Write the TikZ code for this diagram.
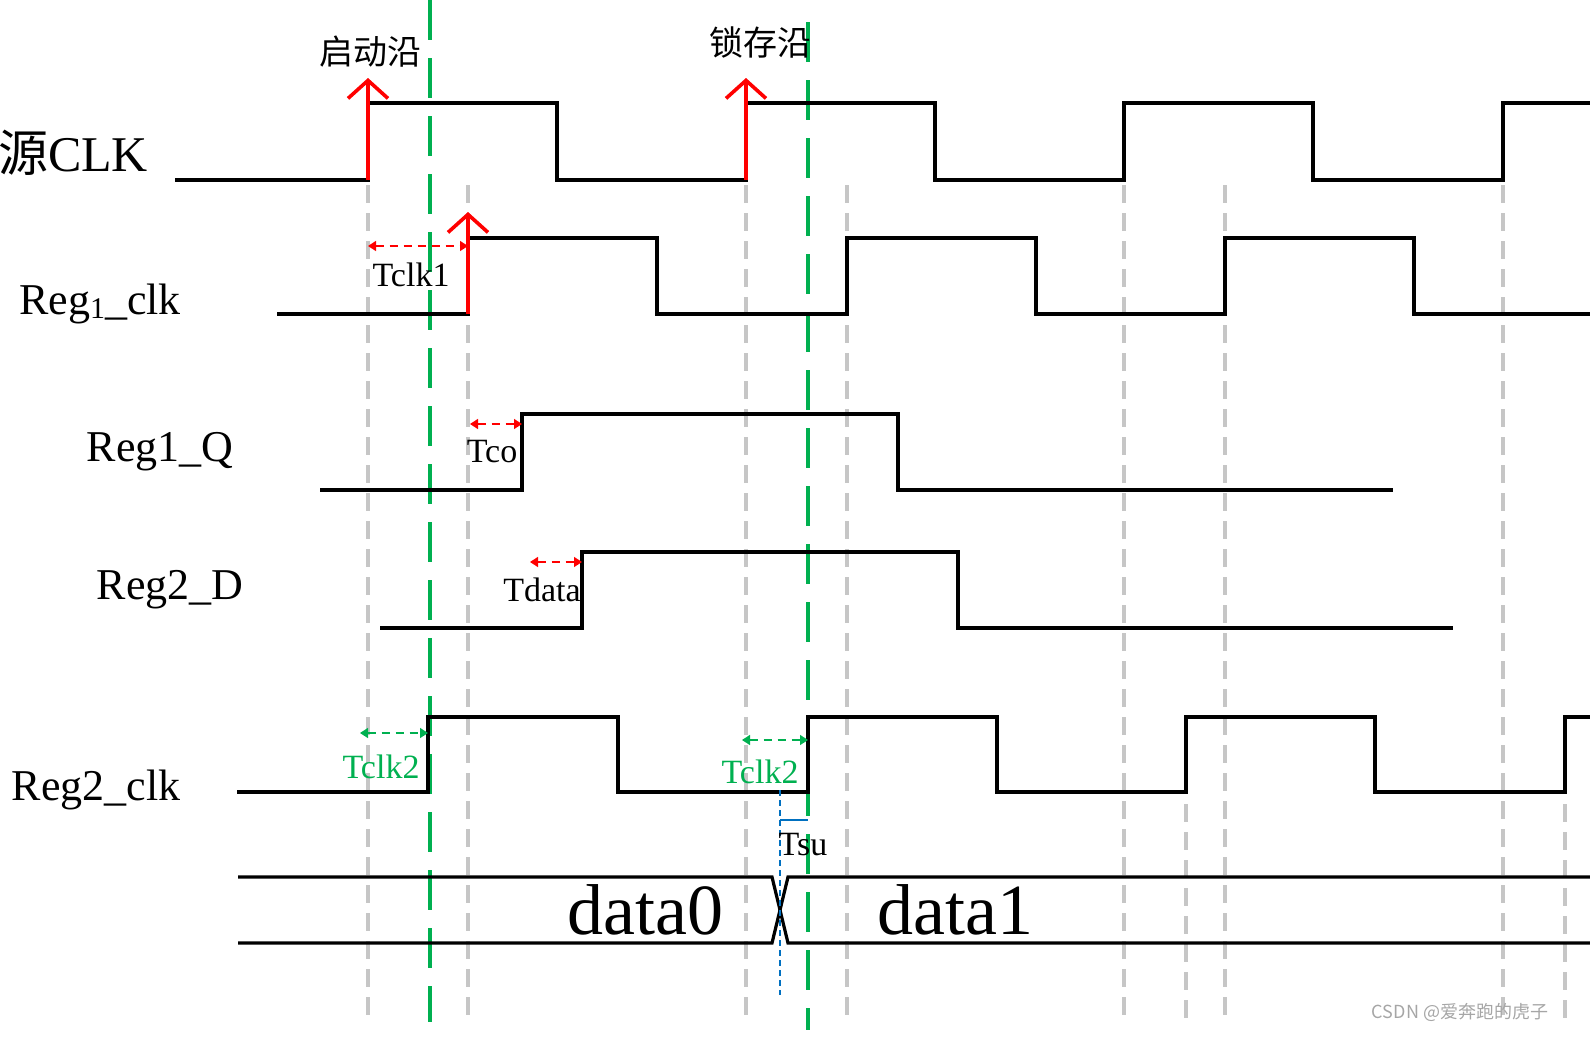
\documentclass[tikz,border=0pt]{standalone}
\usepackage{fontspec}
\setmainfont{Liberation Serif}
\newfontfamily\cjk{Noto Sans CJK SC}
\usetikzlibrary{arrows.meta}
\definecolor{ggreen}{RGB}{0,176,80}
\definecolor{gblue}{RGB}{0,112,192}
\tikzset{
 wave/.style={line width=1.6pt,black},
 grid/.style={line width=1.8pt,gray!45,dash pattern=on 9pt off 5pt},
 gline/.style={line width=2.2pt,ggreen,dash pattern=on 20pt off 9pt},
 redge/.style={line width=1.8pt,red,-{Straight Barb[length=9pt,width=20pt]}},
 rdim/.style={red,line width=0.7pt,dash pattern=on 4pt off 3pt,{Triangle[length=4pt,width=5pt]}-{Triangle[length=4pt,width=5pt]}},
 gdim/.style={ggreen,line width=0.7pt,dash pattern=on 4pt off 3pt,{Triangle[length=4pt,width=5pt]}-{Triangle[length=4pt,width=5pt]}},
 sig/.style={font=\fontsize{22}{24}\selectfont},
 tl/.style={font=\fontsize{17}{19}\selectfont},
}
\begin{document}
\begin{tikzpicture}[x=0.5pt,y=-0.5pt]
\useasboundingbox (0,0) rectangle (1590,1044);
% grid lines
\foreach \x in {368,468,746,847,1124,1225,1503} \draw[grid] (\x,185) -- (\x,1022);
\foreach \x in {1186,1565} \draw[grid] (\x,720) -- (\x,1022);
% green lines
\draw[gline] (430,0) -- (430,1022);
\draw[gline] (808,22) -- (808,1030);
% source CLK
\draw[wave] (175,180) -- (368,180) -- (368,103) -- (557,103) -- (557,180) -- (746,180) -- (746,103) -- (935,103) -- (935,180) -- (1124,180) -- (1124,103) -- (1313,103) -- (1313,180) -- (1503,180) -- (1503,103) -- (1590,103);
\draw[redge] (368,180) -- (368,78);
\draw[redge] (746,180) -- (746,78);
% Reg1_clk
\draw[wave] (277,314) -- (468,314) -- (468,238) -- (657,238) -- (657,314) -- (847,314) -- (847,238) -- (1036,238) -- (1036,314) -- (1225,314) -- (1225,238) -- (1414,238) -- (1414,314) -- (1590,314);
\draw[redge] (468,314) -- (468,212);
\draw[rdim] (368,246) -- (468,246);
% Reg1_Q
\draw[wave] (320,490) -- (522,490) -- (522,414) -- (898,414) -- (898,490) -- (1393,490);
\draw[rdim] (470,424) -- (522,424);
% Reg2_D
\draw[wave] (380,628) -- (582,628) -- (582,552) -- (958,552) -- (958,628) -- (1453,628);
\draw[rdim] (530,562) -- (582,562);
% Reg2_clk
\draw[wave] (237,792) -- (428,792) -- (428,717) -- (618,717) -- (618,792) -- (808,792) -- (808,717) -- (997,717) -- (997,792) -- (1186,792) -- (1186,717) -- (1375,717) -- (1375,792) -- (1565,792) -- (1565,717) -- (1590,717);
\draw[gdim] (360,733) -- (428,733);
\draw[gdim] (742,740) -- (808,740);
% data bus
\draw[wave] (238,877) -- (772,877) -- (788,943) -- (1590,943);
\draw[wave] (238,943) -- (772,943) -- (788,877) -- (1590,877);
% Tsu
\draw[gblue,line width=0.7pt,dash pattern=on 3pt off 2pt] (780,790) -- (780,995);
\draw[gblue,line width=0.8pt] (780,820) -- (808,820);
% labels
\node[font=\cjk\fontsize{17}{19}\selectfont] (l1) at (370,52) {启动沿};
\node[font=\cjk\fontsize{17}{19}\selectfont] (l2) at (760,43) {锁存沿};
\node[font=\fontsize{25}{28}\selectfont] (s1) at (73,153) {{\cjk 源}CLK};
\node[sig] (s2) at (100,304) {Reg\raisebox{-2pt}{\fontsize{15}{16}\selectfont 1}\_clk};
\node[sig] (s3) at (160,452) {Reg1\_Q};
\node[sig] (s4) at (170,590) {Reg2\_D};
\node[sig] (s5) at (96,790) {Reg2\_clk};
\node[tl] (t1) at (411,275) {Tclk1};
\node[tl] (t2) at (492,452) {Tco};
\node[tl] (t3) at (542,590) {Tdata};
\node[tl,text=ggreen] (t4) at (381,767) {Tclk2};
\node[tl,text=ggreen] (t5) at (760,772) {Tclk2};
\node[tl] (t6) at (803,845) {Tsu};
\node[font=\fontsize{36}{40}\selectfont] (d0) at (645,910) {data0};
\node[font=\fontsize{36}{40}\selectfont] (d1) at (955,910) {data1};
\node[font=\cjk\fontsize{9}{10}\selectfont,text=gray!70] (wm) at (1460,1012) {CSDN @爱奔跑的虎子};
\end{tikzpicture}
\end{document}
